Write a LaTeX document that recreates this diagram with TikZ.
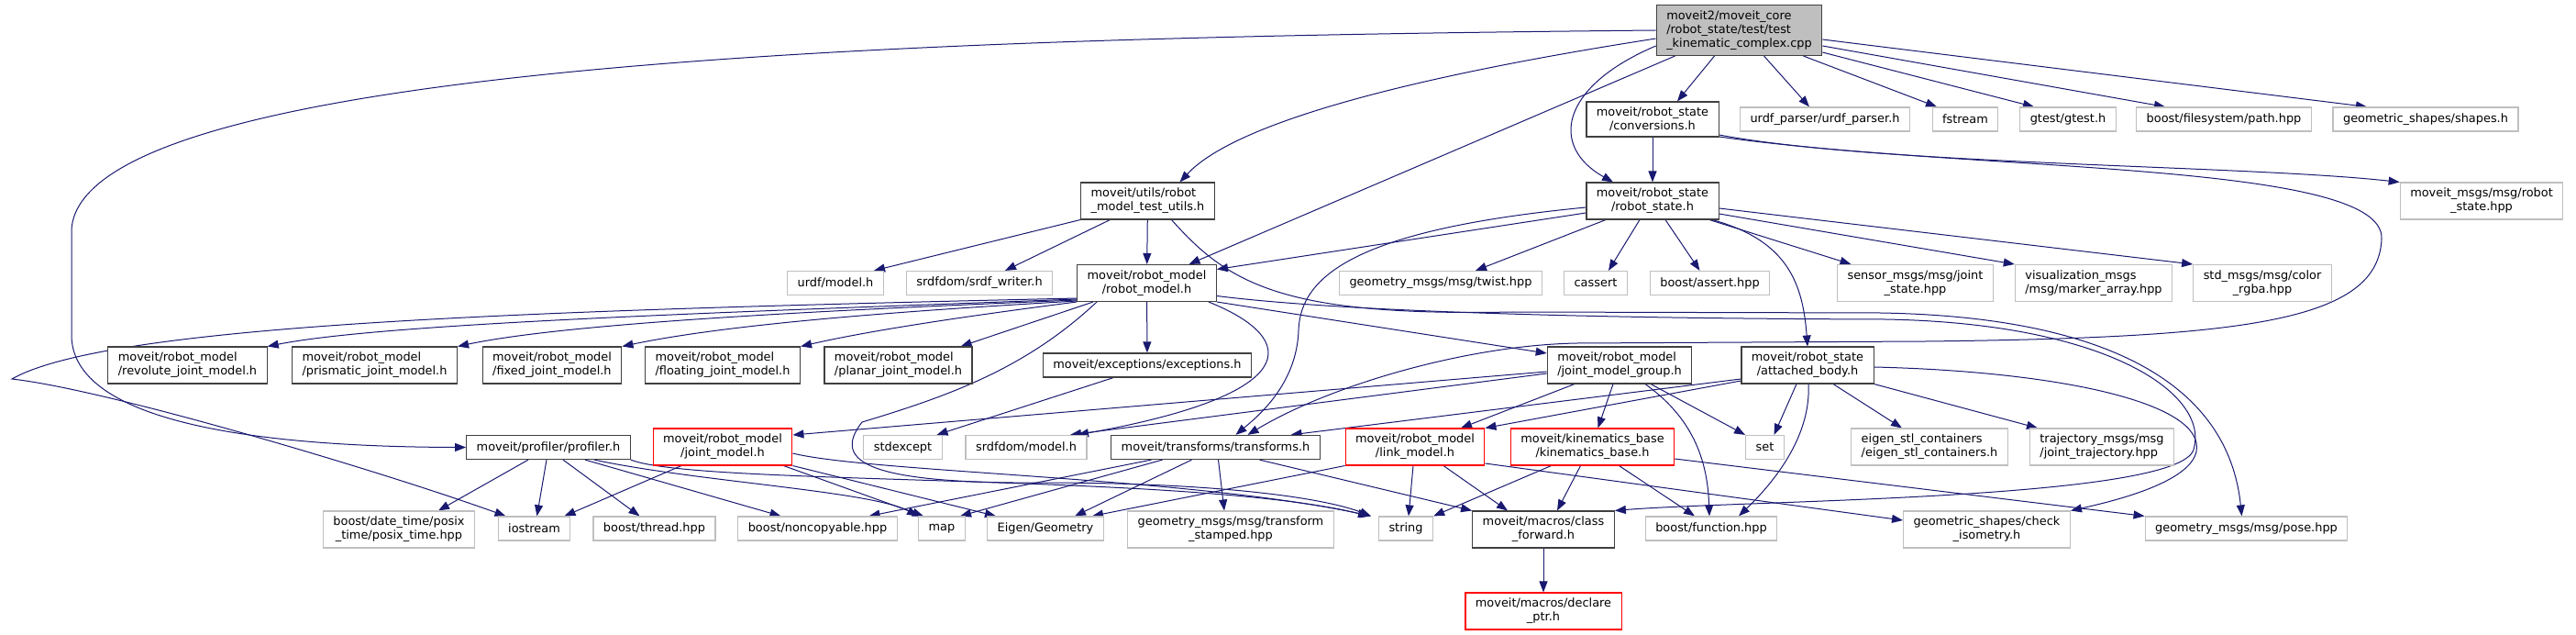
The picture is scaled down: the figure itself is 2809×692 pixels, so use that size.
\documentclass[tikz,border=0pt]{standalone}
\usepackage{fontspec}
\setmainfont{DejaVu Sans}
\usetikzlibrary{arrows.meta, backgrounds}
\definecolor{midnight}{HTML}{191970}
\definecolor{grey75}{HTML}{BFBFBF}
\definecolor{docgrey}{HTML}{404040}
\definecolor{truncred}{HTML}{FF0000}

\begin{document}
\begin{tikzpicture}[
  x=1pt, y=-1pt,
  file/.style={
    rectangle, fill=white, line width=1.2pt,
    font=\fontsize{12.9}{15}\selectfont,
    inner xsep=11pt, inner ysep=6pt, minimum height=26pt,
    align=center
  },
  docfile/.style={file, draw=docgrey},
  extfile/.style={file, draw=grey75},
  cutfile/.style={file, draw=truncred},
  rootfile/.style={file, draw=docgrey, fill=grey75},
  inc/.style={-{Triangle[length=12pt, width=9pt]}, line width=1pt, draw=midnight}
]
\useasboundingbox (0, 0) rectangle (2809, 692);

%% coordinates are image pixels, y grows downwards
%% rows at y = 33, 130, 219, 308.5, 398, 487.5, 576.5, 666

%% ─── ROW 0: THE TEST FILE ────────────────────────────────────────────────────
\node[rootfile, align=left] (main_cpp) at (1896.5, 33)
  {moveit2/moveit\_core\\/robot\_state/test/test\\\_kinematic\_complex.cpp};

%% ─── ROW 1 ───────────────────────────────────────────────────────────────────
\node[docfile] (conv_h) at (1802, 130)
  {moveit/robot\_state\\/conversions.h};
\node[extfile] (urdf_parser_h) at (1990, 130) {urdf\_parser/urdf\_parser.h};
\node[extfile] (fstream) at (2143, 130) {fstream};
\node[extfile] (gtest_h) at (2255, 130) {gtest/gtest.h};
\node[extfile] (path_hpp) at (2425, 130) {boost/filesystem/path.hpp};
\node[extfile] (shapes_h) at (2645, 130) {geometric\_shapes/shapes.h};

%% ─── ROW 2 ───────────────────────────────────────────────────────────────────
\node[docfile, align=left] (utils_h) at (1251.5, 219)
  {moveit/utils/robot\\\_model\_test\_utils.h};
\node[docfile] (rstate_h) at (1802, 219)
  {moveit/robot\_state\\/robot\_state.h};
\node[extfile] (msg_rstate_hpp) at (2706, 219)
  {moveit\_msgs/msg/robot\\\_state.hpp};

%% ─── ROW 3 ───────────────────────────────────────────────────────────────────
\node[extfile] (urdf_model_h) at (911, 308.5) {urdf/model.h};
\node[extfile] (srdf_writer_h) at (1068, 308.5) {srdfdom/srdf\_writer.h};
\node[docfile] (rmodel_h) at (1250.5, 308.5)
  {moveit/robot\_model\\/robot\_model.h};
\node[extfile] (twist_hpp) at (1571, 308.5) {geometry\_msgs/msg/twist.hpp};
\node[extfile] (cassert) at (1740, 308.5) {cassert};
\node[extfile] (bassert_hpp) at (1864.5, 308.5) {boost/assert.hpp};
\node[extfile] (jstate_hpp) at (2088.5, 308.5)
  {sensor\_msgs/msg/joint\\\_state.hpp};
\node[extfile, align=left] (marker_hpp) at (2283, 308.5)
  {visualization\_msgs\\/msg/marker\_array.hpp};
\node[extfile] (rgba_hpp) at (2467, 308.5)
  {std\_msgs/msg/color\\\_rgba.hpp};

%% ─── ROW 4 ───────────────────────────────────────────────────────────────────
\node[docfile, align=left] (revolute_h) at (204.5, 398)
  {moveit/robot\_model\\/revolute\_joint\_model.h};
\node[docfile, align=left] (prismatic_h) at (408.5, 398)
  {moveit/robot\_model\\/prismatic\_joint\_model.h};
\node[docfile, align=left] (fixed_h) at (602, 398)
  {moveit/robot\_model\\/fixed\_joint\_model.h};
\node[docfile, align=left] (floating_h) at (788, 398)
  {moveit/robot\_model\\/floating\_joint\_model.h};
\node[docfile, align=left] (planar_h) at (979.5, 398)
  {moveit/robot\_model\\/planar\_joint\_model.h};
\node[docfile] (except_h) at (1251, 398) {moveit/exceptions/exceptions.h};
\node[docfile, align=left] (jmg_h) at (1766, 398)
  {moveit/robot\_model\\/joint\_model\_group.h};
\node[docfile] (attached_h) at (1971, 398)
  {moveit/robot\_state\\/attached\_body.h};

%% ─── ROW 5 ───────────────────────────────────────────────────────────────────
\node[docfile] (profiler_h) at (598, 487.5) {moveit/profiler/profiler.h};
\node[cutfile] (jmodel_h) at (788, 487)
  {moveit/robot\_model\\/joint\_model.h};
\node[extfile] (stdexcept) at (984.5, 487.5) {stdexcept};
\node[extfile] (srdf_model_h) at (1119, 487.5) {srdfdom/model.h};
\node[docfile] (transforms_h) at (1325.5, 487.5) {moveit/transforms/transforms.h};
\node[cutfile] (lmodel_h) at (1543, 487)
  {moveit/robot\_model\\/link\_model.h};
\node[cutfile] (kbase_h) at (1736.5, 487)
  {moveit/kinematics\_base\\/kinematics\_base.h};
\node[extfile] (set) at (1924.5, 487.5) {set};
\node[extfile, align=left] (eigen_stl_h) at (2104, 487)
  {eigen\_stl\_containers\\/eigen\_stl\_containers.h};
\node[extfile, align=left] (traj_hpp) at (2292, 487)
  {trajectory\_msgs/msg\\/joint\_trajectory.hpp};

%% ─── ROW 6 ───────────────────────────────────────────────────────────────────
\node[extfile] (posix_hpp) at (435, 577)
  {boost/date\_time/posix\\\_time/posix\_time.hpp};
\node[extfile] (iostream) at (582.5, 576) {iostream};
\node[extfile] (thread_hpp) at (713.5, 576) {boost/thread.hpp};
\node[extfile] (noncopy_hpp) at (891.5, 576) {boost/noncopyable.hpp};
\node[extfile] (map) at (1027, 576) {map};
\node[extfile] (eigen_geom) at (1140, 576) {Eigen/Geometry};
\node[extfile] (tfstamped_hpp) at (1342, 577)
  {geometry\_msgs/msg/transform\\\_stamped.hpp};
\node[extfile] (string) at (1533, 576) {string};
\node[docfile] (class_fwd_h) at (1683, 577)
  {moveit/macros/class\\\_forward.h};
\node[extfile] (function_hpp) at (1866, 576) {boost/function.hpp};
\node[extfile] (check_iso_h) at (2166.5, 577)
  {geometric\_shapes/check\\\_isometry.h};
\node[extfile] (pose_hpp) at (2449.5, 576) {geometry\_msgs/msg/pose.hpp};

%% ─── ROW 7 ───────────────────────────────────────────────────────────────────
\node[cutfile] (declare_h) at (1683, 666)
  {moveit/macros/declare\\\_ptr.h};

\begin{scope}[on background layer]
%% ─── INCLUDES OF THE TEST FILE ───────────────────────────────────────────────
\draw[inc] (main_cpp.west) .. controls (1100, 40) and (90, 60) .. (78, 250)
  -- (78, 365) .. controls (78, 460) and (280, 487) .. (profiler_h.west);
\draw[inc] ([yshift=-9pt]main_cpp.west) .. controls (1560, 80) and (1350, 130)
  .. ([xshift=35pt]utils_h.north);
\draw[inc] ([xshift=-70pt]main_cpp.south) -- ([xshift=46pt]rmodel_h.north);
\draw[inc] ([yshift=-17pt]main_cpp.west) .. controls (1700, 95) and (1690, 160)
  .. ([xshift=-43pt]rstate_h.north);
\draw[inc] ([xshift=-27pt]main_cpp.south) -- ([xshift=27pt]conv_h.north);
\draw[inc] ([xshift=27pt]main_cpp.south) -- ([xshift=-17pt]urdf_parser_h.north);
\draw[inc] ([xshift=70pt]main_cpp.south) -- ([xshift=-31pt]fstream.north);
\draw[inc] ([yshift=4pt]main_cpp.south east) -- ([xshift=-37pt]gtest_h.north);
\draw[inc] ([yshift=-17pt]main_cpp.east) -- ([xshift=-64pt]path_hpp.north);
\draw[inc] ([yshift=-10pt]main_cpp.east) -- ([xshift=-64pt]shapes_h.north);

%% ─── conversions.h ───────────────────────────────────────────────────────────
\draw[inc] (conv_h) -- (rstate_h);
\draw[inc] ([yshift=-17pt]conv_h.east) .. controls (2050, 180) and (2450, 180)
  .. (msg_rstate_hpp.north west);
\draw[inc] ([yshift=-19pt]conv_h.east) .. controls (2150, 188) and (2600, 175)
  .. (2597, 260) .. controls (2594, 350) and (2450, 368) .. (2100, 372)
  -- (1720, 374) .. controls (1600, 376) and (1450, 420)
  .. ([xshift=35pt]transforms_h.north);

%% ─── robot_model_test_utils.h ────────────────────────────────────────────────
\draw[inc] (utils_h) -- (rmodel_h);
\draw[inc] (utils_h.south west) -- ([xshift=42pt]urdf_model_h.north);
\draw[inc] ([xshift=-41pt]utils_h.south) -- ([xshift=28pt]srdf_writer_h.north);
\draw[inc] ([xshift=26pt]utils_h.south) .. controls (1340, 310) and (1400, 345)
  .. (1650, 340) -- (2050, 341) .. controls (2300, 345) and (2430, 420)
  .. ([xshift=-5pt]pose_hpp.north);

%% ─── robot_model.h ───────────────────────────────────────────────────────────
\draw[inc] ([yshift=4pt]rmodel_h.south west) .. controls (600, 338) and (120, 352)
  .. (13, 413) .. controls (120, 425) and (420, 515)
  .. ([xshift=-31pt]iostream.north);
\draw[inc] ([yshift=3pt]rmodel_h.south west) .. controls (800, 340) and (420, 352)
  .. (revolute_h.north east);
\draw[inc] ([yshift=2pt]rmodel_h.south west) .. controls (900, 338) and (620, 352)
  .. (prismatic_h.north east);
\draw[inc] ([yshift=1pt]rmodel_h.south west) .. controls (1000, 338) and (800, 352)
  .. (fixed_h.north east);
\draw[inc] (rmodel_h.south west) .. controls (1050, 345) and (950, 360)
  .. (floating_h.north east);
\draw[inc] ([xshift=18pt]rmodel_h.south west) -- ([xshift=-13pt]planar_h.north east);
\draw[inc] (rmodel_h) -- (except_h);
\draw[inc] (rmodel_h.south east) -- ([yshift=13pt]jmg_h.west);
\draw[inc] ([xshift=-9pt]rmodel_h.south east) .. controls (1420, 370) and (1420, 430)
  .. ([xshift=56pt]srdf_model_h.north);
\draw[inc] ([xshift=22pt]rmodel_h.south west) .. controls (1120, 400) and (1040, 430)
  .. (940, 460) .. controls (905, 505) and (950, 528) .. (1150, 526)
  .. controls (1350, 527) and (1450, 545) .. ([xshift=-38pt]string.north);
\draw[inc] ([yshift=-14pt]rmodel_h.east) .. controls (1450, 338) and (1700, 347)
  .. (2055, 348) .. controls (2300, 352) and (2410, 430) .. (2392, 490)
  .. controls (2375, 545) and (1900, 545) .. (class_fwd_h.north east);

%% ─── robot_state.h ───────────────────────────────────────────────────────────
\draw[inc] ([yshift=-13pt]rstate_h.west) -- ([yshift=15pt]rmodel_h.east);
\draw[inc] ([yshift=-7pt]rstate_h.west) .. controls (1480, 250) and (1418, 300)
  .. (1416, 360) .. controls (1414, 420) and (1370, 455)
  .. ([xshift=22pt]transforms_h.north);
\draw[inc] ([xshift=-51pt]rstate_h.south) -- ([xshift=38pt]twist_hpp.north);
\draw[inc] ([xshift=-14pt]rstate_h.south) -- ([xshift=14pt]cassert.north);
\draw[inc] ([xshift=14pt]rstate_h.south) -- ([xshift=-11pt]bassert_hpp.north);
\draw[inc] ([xshift=62pt]rstate_h.south) -- ([xshift=-70pt]jstate_hpp.north);
\draw[inc] ([yshift=-14pt]rstate_h.east) -- (marker_hpp.north west);
\draw[inc] ([yshift=-8pt]rstate_h.east) -- (rgba_hpp.north west);
\draw[inc] ([xshift=65pt]rstate_h.south) .. controls (1950, 262) and (1966, 310)
  .. (attached_h.north);

%% ─── joint_model_group.h ─────────────────────────────────────────────────────
\draw[inc] ([yshift=-7pt]jmg_h.west) -- ([yshift=13pt]jmodel_h.east);
\draw[inc] ([yshift=-9pt]jmg_h.west) -- ([xshift=48pt]srdf_model_h.north);
\draw[inc] ([xshift=-49pt]jmg_h.south) -- ([xshift=50pt]lmodel_h.north);
\draw[inc] ([xshift=-7pt]jmg_h.south) -- ([xshift=6pt]kbase_h.north);
\draw[inc] ([xshift=34pt]jmg_h.south) -- (set.north west);
\draw[inc] ([xshift=28pt]jmg_h.south) .. controls (1845, 455) and (1862, 500)
  .. ([xshift=-2pt]function_hpp.north);

%% ─── attached_body.h ─────────────────────────────────────────────────────────
\draw[inc] ([yshift=-15pt]attached_h.west) -- ([xshift=82pt]transforms_h.north);
\draw[inc] ([yshift=-17pt]attached_h.west) -- (lmodel_h.north east);
\draw[inc] ([xshift=-12pt]attached_h.south) -- ([xshift=10pt]set.north);
\draw[inc] ([xshift=1pt]attached_h.south) .. controls (1975, 475) and (1935, 525)
  .. ([xshift=30pt]function_hpp.north);
\draw[inc] ([xshift=28pt]attached_h.south) -- ([xshift=-30pt]eigen_stl_h.north);
\draw[inc] (attached_h.south east) -- ([xshift=-70pt]traj_hpp.north);
\draw[inc] ([yshift=-2pt]attached_h.east) .. controls (2250, 405) and (2405, 440)
  .. (2395, 492) .. controls (2388, 525) and (2310, 545) .. (check_iso_h.north east);

%% ─── profiler.h ──────────────────────────────────────────────────────────────
\draw[inc] ([xshift=-22pt]profiler_h.south) -- ([xshift=43pt]posix_hpp.north);
\draw[inc] ([xshift=-2pt]profiler_h.south) -- ([xshift=3pt]iostream.north);
\draw[inc] ([xshift=16pt]profiler_h.south) -- ([xshift=-16pt]thread_hpp.north);
\draw[inc] ([xshift=40pt]profiler_h.south) -- ([xshift=-40pt]noncopy_hpp.north);
\draw[inc] ([xshift=50pt]profiler_h.south) .. controls (760, 525) and (950, 535)
  .. (map.north west);
\draw[inc] (profiler_h.south east) .. controls (760, 530) and (1300, 515)
  .. ([xshift=-40pt]string.north);

%% ─── joint_model.h ───────────────────────────────────────────────────────────
\draw[inc] ([xshift=-45pt]jmodel_h.south) -- ([xshift=33pt]iostream.north);
\draw[inc] (jmodel_h.south east) -- ([xshift=-54pt]eigen_geom.north);
\draw[inc] ([xshift=-10pt]jmodel_h.south east) -- ([xshift=-20pt]map.north);
\draw[inc] ([yshift=-7pt]jmodel_h.east) .. controls (950, 515) and (1300, 520)
  .. ([xshift=-38pt]string.north);

%% ─── exceptions.h and transforms.h ───────────────────────────────────────────
\draw[inc] ([xshift=-37pt]except_h.south) -- ([xshift=37pt]stdexcept.north);
\draw[inc] ([xshift=-58pt]transforms_h.south) -- ([xshift=20pt]map.north);
\draw[inc] ([xshift=-70pt]transforms_h.south) -- ([xshift=56pt]noncopy_hpp.north);
\draw[inc] ([xshift=-26pt]transforms_h.south) -- ([xshift=32pt]eigen_geom.north);
\draw[inc] ([xshift=3pt]transforms_h.south) -- ([xshift=-7pt]tfstamped_hpp.north);
\draw[inc] ([xshift=48pt]transforms_h.south) -- (class_fwd_h.north west);

%% ─── link_model.h and kinematics_base.h ──────────────────────────────────────
\draw[inc] ([xshift=-2pt]lmodel_h.south) -- ([xshift=3pt]string.north);
\draw[inc] ([xshift=31pt]lmodel_h.south) -- ([xshift=-39pt]class_fwd_h.north);
\draw[inc] (lmodel_h.south west) -- ([xshift=51pt]eigen_geom.north);
\draw[inc] ([yshift=-18pt]lmodel_h.east) -- ([yshift=10pt]check_iso_h.west);
\draw[inc] ([xshift=-45pt]kbase_h.south) -- (string.north east);
\draw[inc] ([xshift=-13pt]kbase_h.south) -- ([xshift=15pt]class_fwd_h.north);
\draw[inc] ([xshift=29pt]kbase_h.south) -- ([xshift=-18pt]function_hpp.north);
\draw[inc] ([yshift=-13pt]kbase_h.east) -- (pose_hpp.north west);

%% ─── class_forward.h ─────────────────────────────────────────────────────────
\draw[inc] (class_fwd_h) -- (declare_h);
\end{scope}

\end{tikzpicture}
\end{document}
